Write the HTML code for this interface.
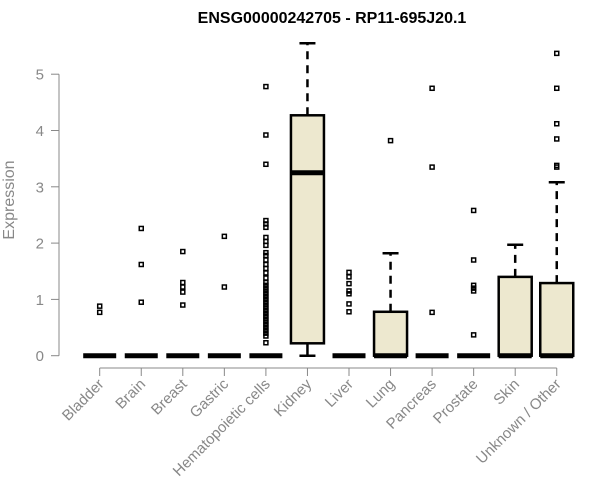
<!DOCTYPE html>
<html><head><meta charset="utf-8"><style>
body{margin:0;background:#fff}
svg{display:block;font-family:"Liberation Sans",Arial,sans-serif}
</style></head><body>
<svg id="chart" width="600" height="500" viewBox="0 0 600 500">
<text x="332" y="23" text-anchor="middle" font-weight="bold" font-size="16">ENSG00000242705 - RP11-695J20.1</text>
<text transform="translate(14,200) rotate(-90)" text-anchor="middle" font-size="16" fill="#888">Expression</text>
<g id="plot"></g>
</svg>
<script>
const categories=["Bladder","Brain","Breast","Gastric","Hematopoietic cells","Kidney","Liver","Lung","Pancreas","Prostate","Skin","Unknown / Other"];
const q1=[0,0,0,0,0,0.22,0,0,0,0,0,0];
const medians=[0,0,0,0,0,3.25,0,0,0,0,0,0];
const q3=[0,0,0,0,0,4.27,0,0.78,0,0,1.4,1.29];
const whiskLo=[0,0,0,0,0,0,0,0,0,0,0,0];
const whiskHi=[0,0,0,0,0,5.55,0,1.82,0,0,1.97,3.08];
const outliers=[
[0.77,0.88],
[0.95,1.62,2.26],
[0.9,1.13,1.22,1.3,1.85],
[1.22,2.12],
[0.23,0.35,0.4,0.45,0.5,0.55,0.6,0.65,0.7,0.75,0.8,0.85,0.9,0.95,1.0,1.05,1.1,1.15,1.2,1.25,1.3,1.38,1.47,1.55,1.62,1.7,1.78,1.83,1.96,2.03,2.1,2.28,2.34,2.4,3.4,3.92,4.78],
[],
[0.78,0.92,1.1,1.15,1.28,1.4,1.48],
[3.82],
[0.77,3.35,4.75],
[0.37,1.15,1.2,1.25,1.7,2.58],
[],
[3.35,3.38,3.85,4.12,4.75,5.37]];
const yTicks=[0,1,2,3,4,5];
const NS="http://www.w3.org/2000/svg";
const g=document.getElementById('plot');
const y=v=>355.7-v*56.3;
const x=i=>99.7+i*41.55;
const bw=33;
function el(t,a){const e=document.createElementNS(NS,t);for(const k in a)e.setAttribute(k,a[k]);g.appendChild(e);return e;}
let ax=el('line',{x1:59,x2:59,y1:y(0),y2:y(5),stroke:'#888'});


yTicks.forEach(t=>{
 const l=el('line',{x1:51,x2:59,y1:y(t),y2:y(t),stroke:'#888'});
 
 
 const tx=el('text',{x:44,y:y(t)+5.5,'text-anchor':'end','font-size':15,fill:'#888'});
 tx.textContent=t;
 
 
});
let xa=el('line',{x1:x(0),x2:x(categories.length-1),y1:368,y2:368,stroke:'#888'});


categories.forEach((c,i)=>{
 const cx=x(i);
 const t=el('line',{x1:cx,x2:cx,y1:368,y2:376,stroke:'#888'});
 
 
 const lb=el('text',{transform:`translate(${cx+5},${385}) rotate(-45)`,'text-anchor':'end','font-size':15,fill:'#888'});
 lb.textContent=c;
 
 
 if(whiskHi[i]>q3[i]){
  const w=el('line',{x1:cx,x2:cx,y1:y(q3[i]),y2:y(whiskHi[i]),stroke:'#000','stroke-width':2.5,'stroke-dasharray':'8,6'});
  
  
  const cap=el('line',{x1:cx-8,x2:cx+8,y1:y(whiskHi[i]),y2:y(whiskHi[i]),stroke:'#000','stroke-width':2.5});
  
  
 }
 if(q1[i]>whiskLo[i]){
  const w=el('line',{x1:cx,x2:cx,y1:y(q1[i]),y2:y(whiskLo[i]),stroke:'#000','stroke-width':2.5});
  
  
  const cap=el('line',{x1:cx-8,x2:cx+8,y1:y(whiskLo[i]),y2:y(whiskLo[i]),stroke:'#000','stroke-width':2.5});
  
  
 }
 if(q3[i]>q1[i]){
  const b=el('rect',{x:cx-bw/2,y:y(q3[i]),width:bw,height:y(q1[i])-y(q3[i]),fill:'#ede8cf',stroke:'#000','stroke-width':2.5});
  
  
 }
 const m=el('line',{x1:cx-bw/2,x2:cx+bw/2,y1:y(medians[i]),y2:y(medians[i]),stroke:'#000','stroke-width':5});
 
 
 outliers[i].forEach(v=>{
  const p=el('rect',{x:cx-2,y:y(v)-2,width:4,height:4,fill:'none',stroke:'#000','stroke-width':1.5});
  
  
 });
});
</script>
</body></html>
